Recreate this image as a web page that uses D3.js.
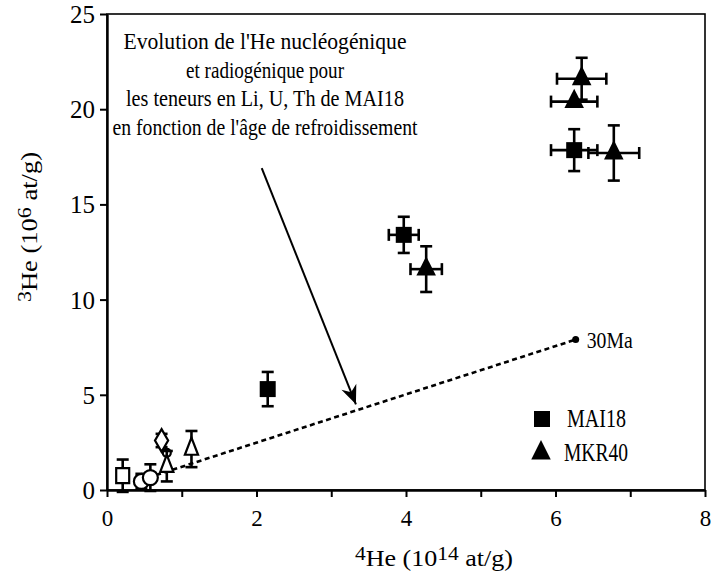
<!DOCTYPE html>
<html><head><meta charset="utf-8">
<script src="https://cdn.jsdelivr.net/npm/d3@7"></script>
<style>body{margin:0;background:#fff}svg{display:block}text{font-family:"Liberation Serif","Times New Roman",serif;fill:#000}</style>
</head><body><svg id="c" width="712" height="575"></svg>
<script>
// ---- data ----
const xTicks = [0,1,2,3,4,5,6,7,8];
const xTickLabels = ["0","","2","","4","","6","","8"];
const yTicks = [0,5,10,15,20,25];
// MAI18 (filled squares)
const mai18X = [2.15, 3.97, 6.25];
const mai18Y = [5.3, 13.4, 17.85];
const mai18Xerr = [0, 0.2, 0.31];
const mai18Yerr = [0.9, 0.95, 1.1];
// MKR40 (filled triangles)
const mkr40X = [4.27, 6.78, 6.35, 6.25];
const mkr40Y = [11.6, 17.7, 21.6, 20.4];
const mkr40Xerr = [0.21, 0.34, 0.33, 0.31];
const mkr40Yerr = [1.2, 1.45, 1.1, 0];
// other samples (open symbols)
const openSym = ["square","circle","circle","diamond","smallcircle","triangle","triangle"];
const openX = [0.21, 0.46, 0.58, 0.73, 0.8, 0.8, 1.13];
const openY = [0.75, 0.45, 0.65, 2.6, 1.95, 1.25, 2.15];
const openYerr = [0.85, 0.4, 0.7, 0.35, 0, 0.8, 0.95];
// nucleogenic/radiogenic evolution line
const evolX = [0.55, 6.27];
const evolY = [0.65, 7.9];
const evolLabel = "30Ma";
const annotLines = ["Evolution de l'He nucléogénique","et radiogénique pour","les teneurs en Li, U, Th de MAI18","en fonction de l'âge de refroidissement"];
const arrowX = [2.07, 3.33];
const arrowY = [16.9, 4.5];
const legendNames = ["MAI18","MKR40"];

// ---- layout ----
const W=712,H=575, m={l:107,t:14,r:7,b:85};
const svg=d3.select("#c");
const x=d3.scaleLinear().domain([0,8]).range([m.l,W-m.r]);
const y=d3.scaleLinear().domain([0,25]).range([H-m.b,m.t]);

// frame
svg.append("rect").attr("x",m.l).attr("y",m.t).attr("width",W-m.r-m.l).attr("height",H-m.b-m.t)
  .attr("fill","none").attr("stroke","#000").attr("stroke-width",1.6);

// axes
const xa=svg.append("g").attr("transform",`translate(0,${H-m.b})`)
  .call(d3.axisBottom(x).tickValues(xTicks).tickFormat((d,i)=>xTickLabels[i]).tickSize(7).tickSizeOuter(0).tickPadding(13));
const ya=svg.append("g").attr("transform",`translate(${m.l},0)`)
  .call(d3.axisLeft(y).tickValues(yTicks).tickSize(7).tickSizeOuter(0).tickPadding(5));
[xa,ya].forEach(g=>{g.select(".domain").attr("stroke-width",2.4);g.selectAll(".tick line").attr("stroke-width",2);
  g.selectAll("text").style("font-family",'"Liberation Serif",serif');});
xa.selectAll("text").style("font-size","23px");
ya.selectAll("text").style("font-size","25px").attr("dy","0.34em");

// axis titles
function title(sel, sup1, mid, sup2, tail){
  sel.append("tspan").text(sup1).attr("dy",-6).style("font-size","19px");
  sel.append("tspan").text(mid).attr("dy",6);
  sel.append("tspan").text(sup2).attr("dy",-6).style("font-size","19px");
  sel.append("tspan").text(tail).attr("dy",6);
}
const xt=svg.append("text").attr("x",434).attr("y",566).attr("text-anchor","middle").style("font-size","23px")
  .attr("textLength",158).attr("lengthAdjust","spacingAndGlyphs");
title(xt,"4","He (10","14"," at/g)");
const yt=svg.append("text").attr("transform","translate(37,227) rotate(-90)").attr("text-anchor","middle").style("font-size","23px")
  .attr("textLength",150).attr("lengthAdjust","spacingAndGlyphs");
title(yt,"3","He (10","6"," at/g)");

// evolution dashed line
svg.append("line").attr("x1",x(evolX[0])).attr("y1",y(evolY[0])).attr("x2",x(evolX[1])).attr("y2",y(evolY[1]))
  .attr("stroke","#000").attr("stroke-width",2.6).attr("stroke-dasharray","5,3.5");
svg.append("circle").attr("cx",x(evolX[1])).attr("cy",y(evolY[1])).attr("r",3.5).attr("fill","#000");
svg.append("text").attr("x",x(evolX[1])+11).attr("y",y(evolY[1])+8).style("font-size","23px")
  .attr("textLength",46).attr("lengthAdjust","spacingAndGlyphs").text(evolLabel);

// annotation
const annotW=[283,158,278,305];
annotLines.forEach((s,i)=>{
  svg.append("text").attr("x",265).attr("y",49+i*28.5).attr("text-anchor","middle").style("font-size","24px")
    .attr("textLength",annotW[i]).attr("lengthAdjust","spacingAndGlyphs").text(s);
});
// arrow
const defs=svg.append("defs");
defs.append("marker").attr("id","ah").attr("viewBox","-20 -10 22 20").attr("refX",0).attr("refY",0)
  .attr("markerWidth",22).attr("markerHeight",20).attr("markerUnits","userSpaceOnUse").attr("orient","auto")
  .append("path").attr("d","M0,0 L-19,-8 L-13,0 L-19,8 Z").attr("fill","#000");
svg.append("line").attr("x1",x(arrowX[0])).attr("y1",y(arrowY[0])).attr("x2",x(arrowX[1])).attr("y2",y(arrowY[1]))
  .attr("stroke","#000").attr("stroke-width",2).attr("marker-end","url(#ah)");

// error bars
function bars(g,px,py,xe,ye){
  const sw=2.6, cap=6;
  const X=x(px), Y=y(py);
  if(ye>0){
    g.append("line").attr("x1",X).attr("x2",X).attr("y1",y(py-ye)).attr("y2",y(py+ye)).attr("stroke","#000").attr("stroke-width",sw);
    [py-ye,py+ye].forEach(v=>g.append("line").attr("x1",X-cap).attr("x2",X+cap).attr("y1",y(v)).attr("y2",y(v)).attr("stroke","#000").attr("stroke-width",sw));
  }
  if(xe>0){
    g.append("line").attr("x1",x(px-xe)).attr("x2",x(px+xe)).attr("y1",Y).attr("y2",Y).attr("stroke","#000").attr("stroke-width",sw);
    [px-xe,px+xe].forEach(v=>g.append("line").attr("x1",x(v)).attr("x2",x(v)).attr("y1",Y-cap).attr("y2",Y+cap).attr("stroke","#000").attr("stroke-width",sw));
  }
}
const sq=d3.symbol().type(d3.symbolSquare).size(256)();
const tri=d3.symbol().type(d3.symbolTriangle).size(150)();

// open symbols
const og=svg.append("g");
openX.forEach((v,i)=>{
  bars(og,v,openY[i],0,openYerr[i]);
  const X=x(v),Y=y(openY[i]); const t=openSym[i];
  let s;
  if(t==="square") s=og.append("rect").attr("x",X-6.5).attr("y",Y-7.5).attr("width",13).attr("height",15);
  else if(t==="circle") s=og.append("circle").attr("cx",X).attr("cy",Y).attr("r",7.5);
  else if(t==="smallcircle") s=og.append("circle").attr("cx",X).attr("cy",Y).attr("r",4);
  else if(t==="diamond") s=og.append("path").attr("d",d3.symbol().type(d3.symbolDiamond).size(150)()).attr("transform",`translate(${X},${Y})`);
  else s=og.append("path").attr("d",d3.symbol().type(d3.symbolTriangle).size(75)()).attr("transform",`translate(${X},${Y}) scale(1,1.5)`);
  s.attr("fill","#fff").attr("stroke","#000").attr("stroke-width",2.2).attr("vector-effect","non-scaling-stroke");
});

// MAI18
const g1=svg.append("g");
mai18X.forEach((v,i)=>{
  bars(g1,v,mai18Y[i],mai18Xerr[i],mai18Yerr[i]);
  g1.append("path").attr("d",sq).attr("transform",`translate(${x(v)},${y(mai18Y[i])})`).attr("fill","#000");
});
// MKR40
const g2=svg.append("g");
mkr40X.forEach((v,i)=>{
  bars(g2,v,mkr40Y[i],mkr40Xerr[i],mkr40Yerr[i]);
  g2.append("path").attr("d",tri).attr("transform",`translate(${x(v)},${y(mkr40Y[i])}) scale(1.05,1.2)`).attr("fill","#000");
});

// legend
const lg=svg.append("g");
lg.append("path").attr("d",sq).attr("transform",`translate(542,419)`).attr("fill","#000");
lg.append("path").attr("d",tri).attr("transform",`translate(541,453) scale(1.05,1.2)`).attr("fill","#000");
lg.append("text").attr("x",567).attr("y",427).style("font-size","25px").attr("textLength",59).attr("lengthAdjust","spacingAndGlyphs").text(legendNames[0]);
lg.append("text").attr("x",564).attr("y",461).style("font-size","25px").attr("textLength",64).attr("lengthAdjust","spacingAndGlyphs").text(legendNames[1]);
</script></body></html>
